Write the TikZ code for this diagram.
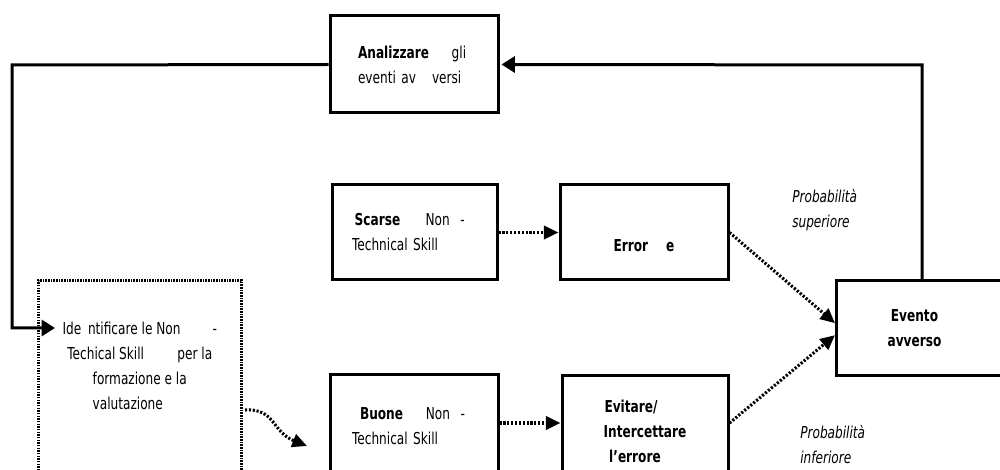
\documentclass[tikz,border=0pt]{standalone}
\usepackage{fontspec}
\setmainfont{DejaVu Sans}[FakeStretch=0.74]
\usetikzlibrary{arrows.meta}
\begin{document}
\begin{tikzpicture}[x=0.75pt,y=-0.75pt,
  every node/.style={font=\fontsize{12.3pt}{18.75pt}\selectfont},
  box/.style={draw, line width=2.25pt, rectangle},
  dotbox/.style={draw, line width=1.9pt, dash pattern=on 1.1pt off 0.9pt, rectangle},
  solidarrow/.style={line width=2.25pt, -{Triangle[length=10pt,width=12pt]}},
  dotarrow/.style={line width=2.3pt, dash pattern=on 1.6pt off 1.3pt, -{Triangle[length=11pt,width=10pt]}},
  note/.style={font=\fontsize{12.3pt}{18.75pt}\selectfont\itshape, align=left, anchor=west, inner sep=0pt}
]
\useasboundingbox (0,0) rectangle (1000,470);
\clip (0,0) rectangle (1000,470);

% boxes
\node[box, minimum width=126pt, minimum height=72.75pt, text width=84pt, inner xsep=21pt, align=left] (analiz) at (414,64.5)
  {\textbf{Analizzare}\hspace{17pt}gli\\eventi av\hspace{12pt}versi};
\node[box, minimum width=123.75pt, minimum height=71.25pt, text width=93.75pt, inner xsep=15pt, align=left] (scarse) at (414.5,232.5)
  {\hspace*{2pt}\textbf{Scarse}\hspace{19pt}Non\hspace{8pt}-\\Technical Skill};
\node[box, minimum width=126pt, minimum height=71.25pt, align=center] (errore) at (644,232.5)
  {\mbox{}\\[10pt]\textbf{Error\hspace{13.5pt}e}};
\node[box, minimum width=126pt, minimum height=76.5pt, text width=93pt, inner xsep=16.5pt, align=left] (buone) at (414,426)
  {\hspace*{6pt}\textbf{Buone}\hspace{17pt}Non\hspace{8pt}-\\Technical Skill};
\node[box, minimum width=124.5pt, minimum height=82.5pt, align=center] (evitare) at (645,431)
  {\textbf{Evitare/}\hspace*{21pt}\\\textbf{Intercettare}\hspace*{27pt}\\\textbf{l’errore}\hspace*{15pt}};
\node[box, minimum width=150pt, minimum height=71.25pt, align=center, anchor=west] (evento) at (835,328.5)
  {\textbf{Evento}\hspace*{33pt}\\\textbf{avverso}\hspace*{33pt}};
\node[dotbox, anchor=north west, inner sep=0pt] (ident) at (37,279)
  {\parbox[t][190pt][t]{152.25pt}{\centering\vspace*{31pt}%
   Ide\hspace{5pt}ntificare le Non\hspace{24pt}-\\
   Techical Skill\hspace{25pt}per la\hspace*{7pt}\\
   formazione e la\hspace*{23pt}\\
   valutazione\hspace*{18pt}}};

% labels
\node[note] (psup) at (792,210) {Probabilità\\superiore};
\node[note] (pinf) at (800,445) {Probabilità\\inferiore};

% connectors
\coordinate (topr) at (922,65);
\coordinate (leftc) at (12,65);
\coordinate (identin) at (55,328);
\coordinate (curvs) at (245,410);
\coordinate (curve) at (307,446);

\draw[solidarrow] (evento.north -| topr) -- (topr) -- ([xshift=1.5pt]analiz.east);
\draw[solidarrow] (analiz.west) -- (leftc) |- (identin);

\draw[dotarrow] (scarse.east) -- (errore.west);
\draw[dotarrow] (buone.east |- 0,423) -- (evitare.west |- 0,423);
\draw[dotarrow] (errore.east) -- ([yshift=4pt]evento.west);
\draw[dotarrow] (evitare.east |- 0,423) -- ([yshift=-5pt]evento.west);
\draw[dotarrow] (curvs) .. controls (275,408) and (272,432) .. (curve);
\end{tikzpicture}
\end{document}
